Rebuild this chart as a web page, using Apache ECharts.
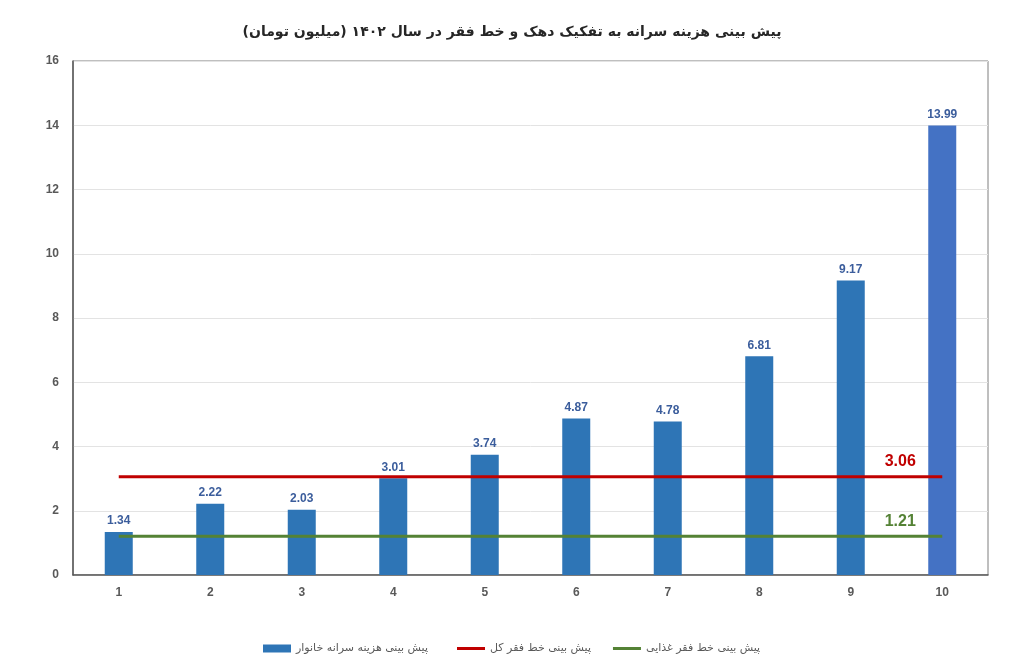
<!DOCTYPE html>
<html><head><meta charset="utf-8">
<script src="https://cdn.jsdelivr.net/npm/echarts@6/dist/echarts.min.js"></script>
<style>html,body{margin:0;padding:0;background:#fff}#c{width:1024px;height:668px}</style>
</head><body><div id="c"></div>
<script>
const titleText = 'پیش بینی هزینه سرانه به تفکیک دهک و خط فقر در سال ۱۴۰۲ (میلیون تومان)';
const categories = ['1','2','3','4','5','6','7','8','9','10'];
const seriesNames = ['پیش بینی هزینه سرانه خانوار', 'پیش بینی خط فقر کل', 'پیش بینی خط فقر غذایی'];
const spending = [1.34, 2.22, 2.03, 3.01, 3.74, 4.87, 4.78, 6.81, 9.17, 13.99];
const povertyTotal = [3.06, 3.06, 3.06, 3.06, 3.06, 3.06, 3.06, 3.06, 3.06, 3.06];
const povertyFood = [1.21, 1.21, 1.21, 1.21, 1.21, 1.21, 1.21, 1.21, 1.21, 1.21];
const yTicks = {min: 0, max: 16, interval: 2};

const FONT = '"Liberation Sans", Arial, "DejaVu Sans", sans-serif';
const chart = echarts.init(document.getElementById('c'));

function lineData(arr, color) {
  return arr.map((v, i) => i === arr.length - 1 ? {
    value: v,
    label: {show: true, position: 'top', offset: [-42, -2], color: color, fontWeight: 'bold', fontSize: 16, fontFamily: FONT, formatter: p => p.value.toFixed(2)}
  } : v);
}

const legendText = {fontSize: 11, color: '#595959', fontFamily: '"DejaVu Sans", sans-serif'};

chart.setOption({
  animation: false,
  backgroundColor: '#ffffff',
  title: {
    text: titleText, left: 'center', top: 20,
    textStyle: {fontSize: 14, fontWeight: 'bold', color: '#262626', fontFamily: '"DejaVu Sans", sans-serif'}
  },
  legend: [
    {
      bottom: 9, left: 258, itemWidth: 28, itemHeight: 8, textStyle: legendText,
      data: [{name: seriesNames[0], icon: 'rect'}]
    },
    {
      bottom: 9, left: 452, itemGap: 22, itemWidth: 28, itemHeight: 3, textStyle: legendText,
      data: [{name: seriesNames[1], icon: 'rect'}, {name: seriesNames[2], icon: 'rect'}]
    }
  ],
  grid: {left: 73, right: 36, top: 61, bottom: 93, show: true, borderColor: '#7f7f7f', borderWidth: 1},
  xAxis: {
    type: 'category', data: categories, boundaryGap: true,
    axisLine: {lineStyle: {color: '#595959', width: 1.5}},
    axisTick: {show: false},
    axisLabel: {color: '#595959', fontWeight: 'bold', fontSize: 12, margin: 12, fontFamily: FONT}
  },
  yAxis: {
    type: 'value', min: yTicks.min, max: yTicks.max, interval: yTicks.interval,
    axisLine: {show: true, lineStyle: {color: '#595959', width: 1.5}},
    axisTick: {show: false},
    axisLabel: {color: '#595959', fontWeight: 'bold', fontSize: 12, margin: 14, fontFamily: FONT},
    splitLine: {lineStyle: {color: '#e3e3e3'}}
  },
  series: [
    {
      name: seriesNames[0], type: 'bar', barWidth: 28,
      itemStyle: {color: '#2E75B6'},
      data: spending.map((v, i) => i === spending.length - 1 ? {value: v, itemStyle: {color: '#4472C4'}} : v),
      label: {show: true, position: 'top', distance: 5, color: '#3B5D9C', fontWeight: 'bold', fontSize: 12, fontFamily: FONT, formatter: p => p.value.toFixed(2)},
      z: 2
    },
    {
      name: seriesNames[1], type: 'line', symbol: 'circle', symbolSize: 0, showSymbol: true,
      itemStyle: {color: '#C00000'},
      lineStyle: {color: '#C00000', width: 3},
      data: lineData(povertyTotal, '#C00000'), z: 3
    },
    {
      name: seriesNames[2], type: 'line', symbol: 'circle', symbolSize: 0, showSymbol: true,
      itemStyle: {color: '#548235'},
      lineStyle: {color: '#548235', width: 3},
      data: lineData(povertyFood, '#548235'), z: 3
    }
  ]
});
</script>
</body></html>
